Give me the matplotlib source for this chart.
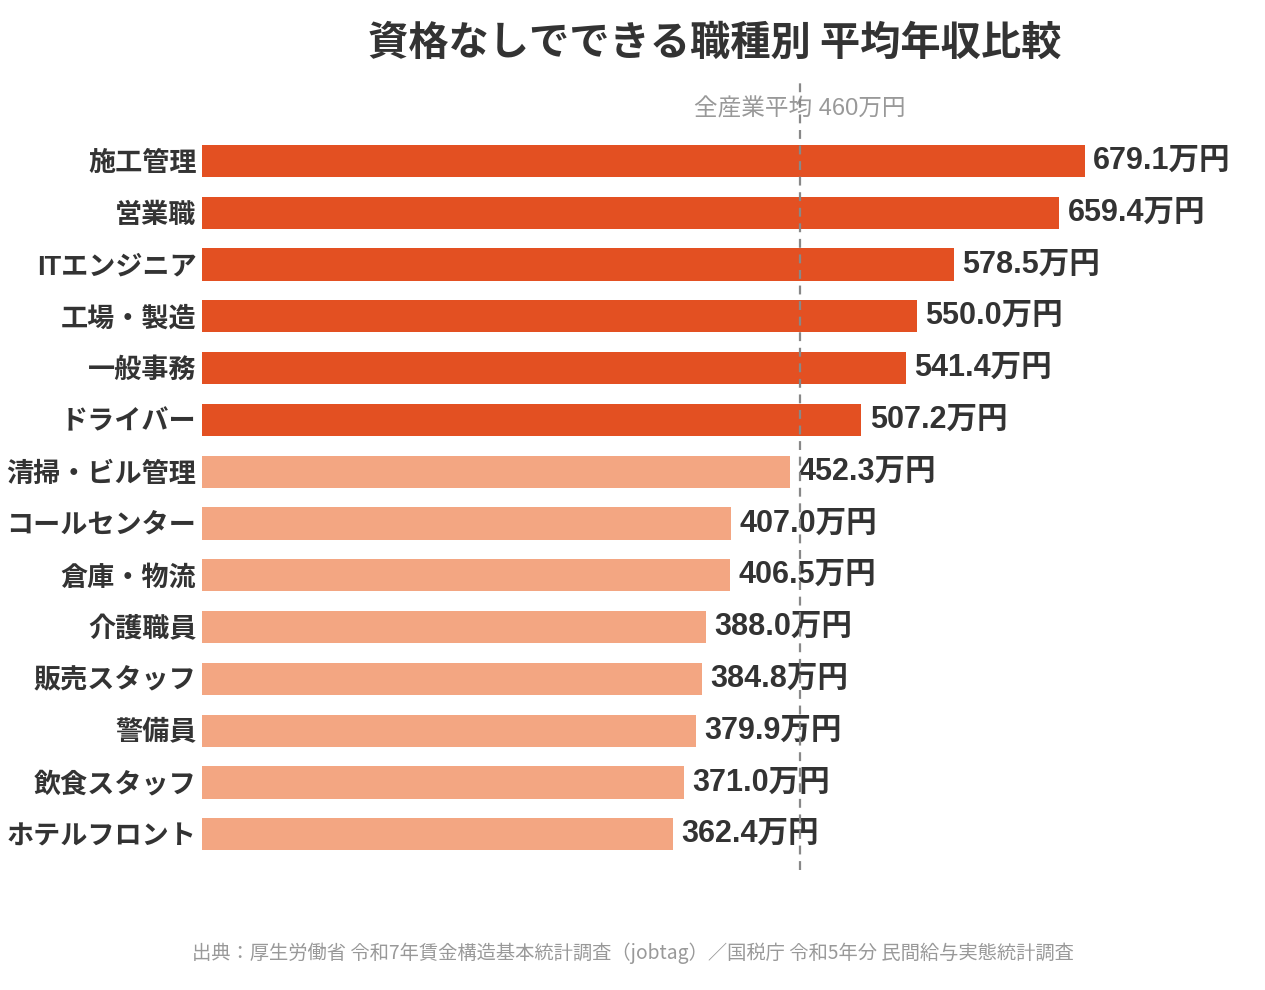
import matplotlib
matplotlib.use("Agg")
import matplotlib.pyplot as plt

plt.rcParams['font.family'] = ['Noto Sans CJK JP', 'DejaVu Sans']
MIXED = ['Liberation Sans', 'Noto Sans CJK JP']

# ── Data ──────────────────────────────────────────────────────────────────────
jobs = ["施工管理", "営業職", "ITエンジニア", "工場・製造", "一般事務", "ドライバー",
        "清掃・ビル管理", "コールセンター", "倉庫・物流", "介護職員", "販売スタッフ",
        "警備員", "飲食スタッフ", "ホテルフロント"]
salary = [679.1, 659.4, 578.5, 550.0, 541.4, 507.2,
          452.3, 407.0, 406.5, 388.0, 384.8, 379.9, 371.0, 362.4]
avg_all = 460

DARK = "#E35022"
LIGHT = "#F3A682"
TXT = "#333333"

W, H = 1265, 990
fig = plt.figure(figsize=(W / 100, H / 100), dpi=100, facecolor="white")
ax = fig.add_axes([202 / W, 1 - 870 / H, (1228 - 202) / W, (870 - 78) / H])

colors = [DARK if v > avg_all else LIGHT for v in salary]
ypos = list(range(len(jobs)))
ax.barh(ypos, salary, height=0.62, color=colors, zorder=2)

ax.set_xlim(0, (1228 - 202) / 1.3)
ax.set_ylim(13.69, -1.60)

for y, v in zip(ypos, salary):
    ax.annotate(f"{v:.1f}万円", (v, y), xytext=(6, 0), textcoords="offset points",
                va="center", ha="left", fontsize=22, fontweight="bold", color=TXT,
                family=MIXED)

ax.axvline(avg_all, color="#888888", lw=1.6, ls=(0, (4, 3)), zorder=3)
ax.text(avg_all, -1.0, f"全産業平均 {avg_all}万円", ha="center", va="center",
        fontsize=17, color="#999999", zorder=1, family=MIXED)

ax.set_yticks(ypos)
ax.set_yticklabels(jobs, fontsize=19.5, fontweight="bold", color=TXT, family=MIXED)
ax.tick_params(axis="y", length=0, pad=4)
ax.set_xticks([])
for sp in ax.spines.values():
    sp.set_visible(False)

fig.text(715 / W, 1 - 43 / H, "資格なしでできる職種別 平均年収比較", ha="center", va="center",
         fontsize=29, fontweight="bold", color=TXT)
fig.text(633 / W, 1 - 953 / H,
         "出典：厚生労働省 令和7年賃金構造基本統計調査（jobtag）／国税庁 令和5年分 民間給与実態統計調査",
         ha="center", va="center", fontsize=13.9, color="#999999")

fig.savefig("out.png", dpi=100, facecolor="white")
